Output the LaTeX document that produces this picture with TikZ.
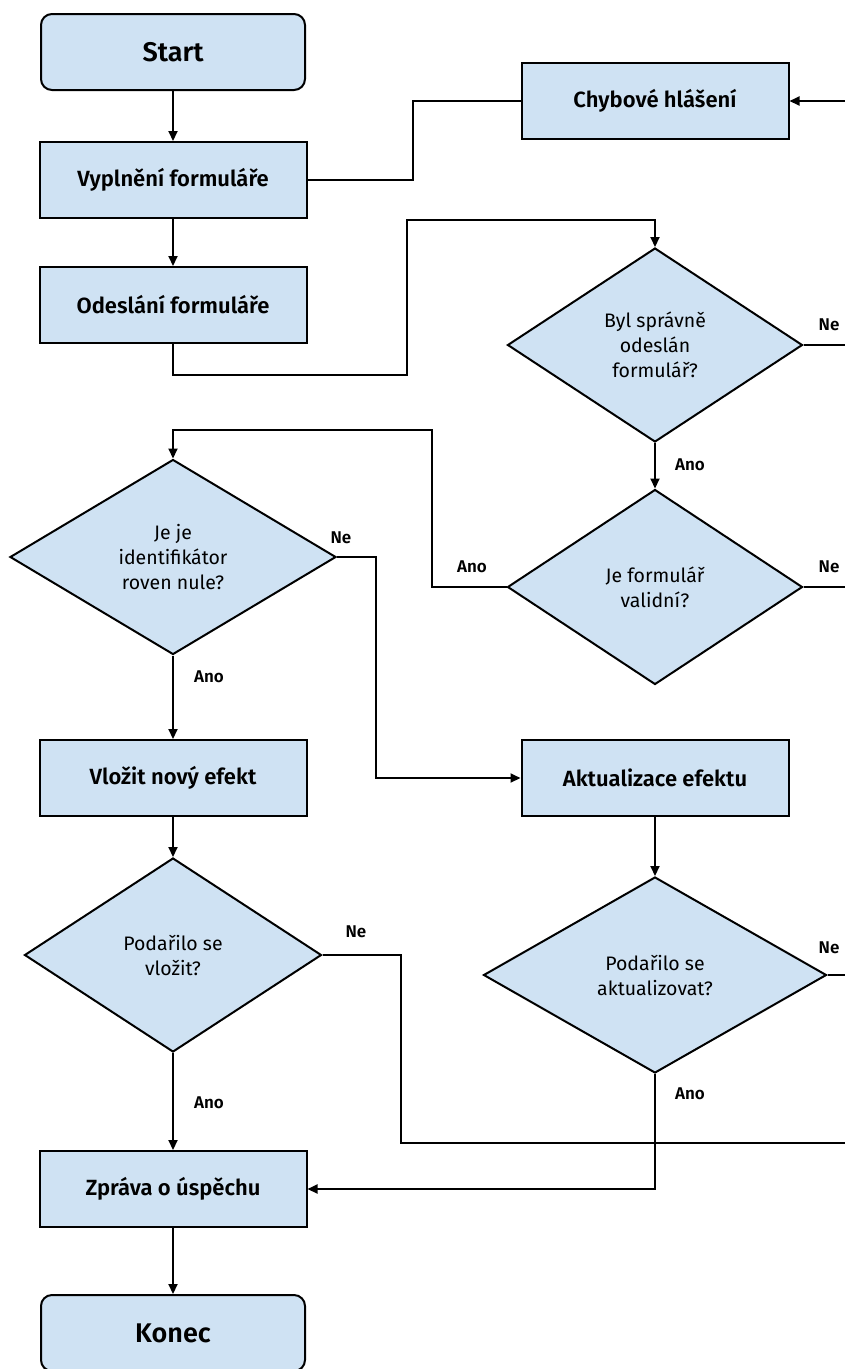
\documentclass[tikz,border=0pt]{standalone}
\usepackage{fontspec}
\setmainfont{Fira Sans}[BoldFont={Fira Sans SemiBold}]
\usetikzlibrary{shapes.geometric,arrows.meta}
\definecolor{boxblue}{HTML}{CFE2F3}
\begin{document}
\begin{tikzpicture}[x=1pt,y=-1pt,
  line width=2pt,
  >={Triangle[length=10pt,width=9pt]},
  endbox/.style={draw, fill=boxblue, rounded corners=11pt, minimum width=264pt, minimum height=76pt, font=\fontsize{27}{32}\selectfont\bfseries},
  stepbox/.style={draw, fill=boxblue, minimum width=267pt, minimum height=76pt, font=\fontsize{22}{26}\selectfont\bfseries},
  decision/.style={draw, fill=boxblue, diamond, inner sep=0pt, align=center, font=\fontsize{19.5}{25}\selectfont},
  answer/.style={font=\fontsize{17}{20}\selectfont\bfseries}]
\useasboundingbox (0,0) rectangle (845,1369);
\node[endbox] (start) at (173,52){Start};
\node[stepbox] (fill) at (173,180){Vyplnění formuláře};
\node[stepbox] (send) at (173,305){Odeslání formuláře};
\node[stepbox] (err) at (655,101){Chybové hlášení};
\node[decision, minimum width=295pt, minimum height=194pt] (sent) at (655,345){Byl správně\\odeslán\\formulář?};
\node[decision, minimum width=295pt, minimum height=195pt] (valid) at (655,587){Je formulář\\validní?};
\node[decision, minimum width=326pt, minimum height=195pt] (zero) at (173,557){Je je\\identifikátor\\roven nule?};
\node[stepbox] (ins) at (173,778){Vložit nový efekt};
\node[stepbox] (upd) at (655,778){Aktualizace efektu};
\node[decision, minimum width=297pt, minimum height=194pt] (insok) at (173,955){Podařilo se\\vložit?};
\node[decision, minimum width=343pt, minimum height=196pt] (updok) at (655,975){Podařilo se\\aktualizovat?};
\node[stepbox] (msg) at (173,1189){Zpráva o úspěchu};
\node[endbox] (stop) at (173,1333){Konec};
\coordinate (r1) at (846,101);
\coordinate (r2) at (846,345);
\coordinate (r3) at (846,587);
\coordinate (r4) at (846,975);
\coordinate (r5) at (846,1143);
\draw[->] (start) -- (fill);
\draw[->] (fill) -- (send);
\draw (fill.east) -| (413,101) -- (err.west);
\draw[->] (r1) -- (err.east);
\draw[->] (send.south) -- (173,375) -| (407,220) -| (sent.north);
\draw (sent.east) -- (r2);
\node[answer] (l1) at (829,325){Ne};
\draw[->] (sent.south) -- (valid.north);
\node[answer] (l2) at (690,465){Ano};
\draw (valid.east) -- (r3);
\node[answer] (l3) at (829,567){Ne};
\draw[->] (valid.west) -- (432,587) |- (173,430) -- (zero.north);
\node[answer] (l4) at (472,567){Ano};
\draw[->] (zero.east) -| (376,700) |- (upd.west);
\node[answer] (l5) at (341,538){Ne};
\draw[->] (zero.south) -- (ins.north);
\node[answer] (l6) at (209,677){Ano};
\draw[->] (ins) -- (insok.north);
\draw[->] (upd) -- (updok.north);
\draw (insok.east) -| (401,1143) -- (r5);
\node[answer] (l7) at (356,932){Ne};
\draw (updok.east) -- (r4);
\node[answer] (l8) at (829,948){Ne};
\draw[->] (updok.south) |- (msg.east);
\node[answer] (l9) at (690,1094){Ano};
\draw[->] (insok.south) -- (msg.north);
\node[answer] (l10) at (209,1103){Ano};
\draw[->] (msg) -- (stop);
\end{tikzpicture}
\end{document}
